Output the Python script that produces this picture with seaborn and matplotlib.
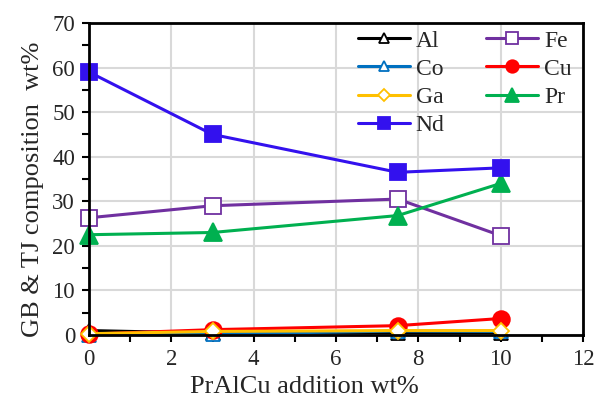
import matplotlib
matplotlib.use("Agg")
import matplotlib.pyplot as plt
import seaborn as sns

x = [0, 3, 7.5, 10]
al = [1.0, 0.4, 0.5, 0.5]
co = [0.1, 0.2, 0.9, 0.8]
fe = [26.3, 29.0, 30.5, 22.3]
cu = [0.2, 1.2, 2.1, 3.7]
ga = [0.3, 0.8, 1.0, 1.0]
pr = [22.5, 23.0, 26.8, 34.0]
nd = [59.0, 45.0, 36.5, 37.5]

sns.set_style("white")
plt.rcParams['font.family'] = ['Liberation Serif', 'DejaVu Serif']

fig = plt.figure(figsize=(5.95, 4.03), dpi=100)
ax = fig.add_axes([89/595, 1-335/403, 494/595, 312/403])

styles = [
    ("Al", al, "black", "^", 10, "white"),
    ("Co", co, "#0070C0", "^", 10, "white"),
    ("Fe", fe, "#7030A0", "s", 12, "white"),
    ("Cu", cu, "#FF0000", "o", 12, "#FF0000"),
    ("Ga", ga, "#FFC000", "D", 8, "white"),
    ("Pr", pr, "#00B050", "^", 13, "#00B050"),
    ("Nd", nd, "#3311EE", "s", 12, "#3311EE"),
]
handles = {}
for name, vals, col, mk, ms, fc in styles:
    sns.lineplot(x=x, y=vals, ax=ax, color=col, marker=mk, markersize=ms,
                 markerfacecolor=fc, markeredgecolor=col, markeredgewidth=1.3,
                 linewidth=2.2, label=name, legend=False, clip_on=False)
    handles[name] = ax.lines[-1]

ax.set_xlim(0, 12)
ax.set_ylim(0, 70)
ax.set_xticks(range(0, 13, 2))
ax.set_xticks(range(1, 12, 2), minor=True)
ax.set_yticks(range(0, 71, 10))
ax.set_yticks(range(5, 70, 10), minor=True)
ax.grid(True, which='major', color='#D9D9D9', linewidth=1.5)
ax.set_axisbelow(True)
for s in ax.spines.values():
    s.set_visible(True)
    s.set_color('black')
    s.set_linewidth(2.0)
ax.tick_params(which='both', direction='out', length=5, width=1.5, color='black',
               bottom=True, left=True, top=False, right=False)
ax.tick_params(which='major', labelsize=16.5, pad=5)
ax.set_xlabel("PrAlCu addition wt%", fontsize=19)
ax.set_ylabel("GB & TJ composition  wt%", fontsize=19)
ax.xaxis.set_label_coords((304-89)/494, -(376-335)/312)
ax.yaxis.set_label_coords(-(89-44)/494, 1-(189-23)/312)

order = ["Al", "Co", "Ga", "Nd", "Fe", "Cu", "Pr"]
ax.legend([handles[n] for n in order], order, ncol=2, frameon=False,
          loc='upper left', bbox_to_anchor=((358-89)/494, 1-(30-23)/312),
          borderaxespad=0, borderpad=0, fontsize=17,
          handlelength=2.2, columnspacing=1.75, labelspacing=0.28,
          handletextpad=0.25, markerscale=0.75)

fig.savefig("out.png", dpi=100)
